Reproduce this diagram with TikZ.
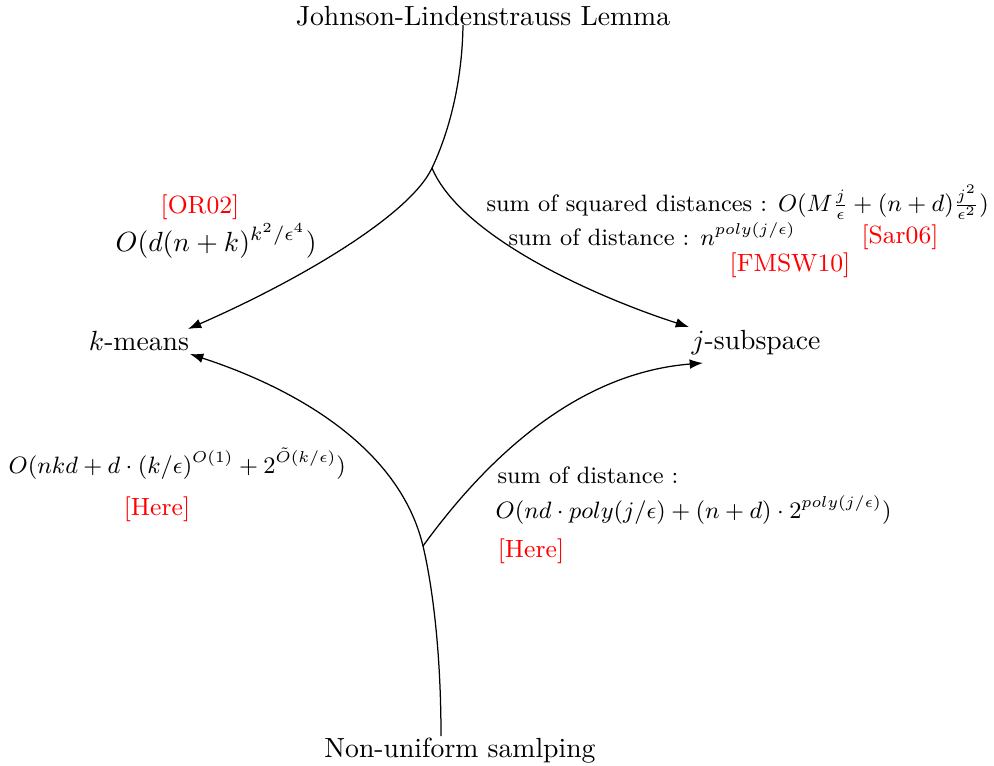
\documentclass[tikz,border=0pt]{standalone}
\usetikzlibrary{arrows.meta}
\newcommand{\notetext}[1]{\scalebox{0.95}{\small #1}}
\begin{document}
\begin{tikzpicture}[x=0.361pt,y=0.361pt,line width=0.45pt,
  lbl/.style={inner sep=0pt,anchor=base},
  note/.style={inner sep=0pt,anchor=base west},
  ref/.style={inner sep=0pt,anchor=base,font=\small,text=red},
  conn/.style={-{Latex[length=4.8pt,width=3.5pt]}}]
\useasboundingbox (0,0) rectangle (994,-766);
% main nodes
\node[lbl] (jl) at (483,-25) {Johnson-Lindenstrauss Lemma};
\node[lbl] (km) at (139,-350) {$k$-means};
\node[lbl] (js) at (756,-349) {$j$-subspace};
\node[lbl] (nu) at (460,-757) {Non-uniform samlping};
% connector points
\coordinate (jlb) at (463,-25);
\coordinate (bt) at (432,-168);
\coordinate (kmt) at (188,-329);
\coordinate (kmb) at (190,-354);
\coordinate (jst) at (689,-327);
\coordinate (jsb) at (703,-363);
\coordinate (nut) at (441,-736);
\coordinate (bb) at (423,-546);
% connectors
\draw (jlb) .. controls (462,-95) and (443,-145) .. (bt);
\draw[conn] (bt) .. controls (410,-215) and (300,-280) .. (kmt);
\draw[conn] (bt) .. controls (460,-235) and (590,-295) .. (jst);
\draw (nut) .. controls (441,-640) and (430,-575) .. (bb);
\draw[conn] (bb) .. controls (400,-450) and (300,-390) .. (kmb);
\draw[conn] (bb) .. controls (500,-440) and (590,-372) .. (jsb);
% labels top-left
\node[ref] (or) at (200,-213) {[OR02]};
\node[inner sep=0pt,anchor=base west] (f1) at (115,-251) {$O(d(n+k)^{k^2/\epsilon^4})$};
% labels top-right
\node[note] (f2) at (486,-211) {\notetext{sum of squared distances : $O(M\frac{j}{\epsilon}+(n+d)\frac{j^2}{\epsilon^2})$}};
\node[note] (f3) at (508,-245) {\notetext{sum of distance : $n^{poly(j/\epsilon)}$}};
\node[ref] (sar) at (900,-243) {[Sar06]};
\node[ref] (fm) at (790,-271) {[FMSW10]};
% labels bottom-left
\node[note] (f4) at (8,-473) {\notetext{$O(nkd+d\cdot(k/\epsilon)^{O(1)}+2^{\tilde{O}(k/\epsilon)})$}};
\node[ref] (h1) at (157,-515) {[Here]};
% labels bottom-right
\node[note] (f5) at (497,-483) {\notetext{sum of distance :}};
\node[note] (f6) at (495,-518) {\notetext{$O(nd\cdot poly(j/\epsilon)+(n+d)\cdot 2^{poly(j/\epsilon)})$}};
\node[ref] (h2) at (531,-557) {[Here]};
\end{tikzpicture}
\end{document}
